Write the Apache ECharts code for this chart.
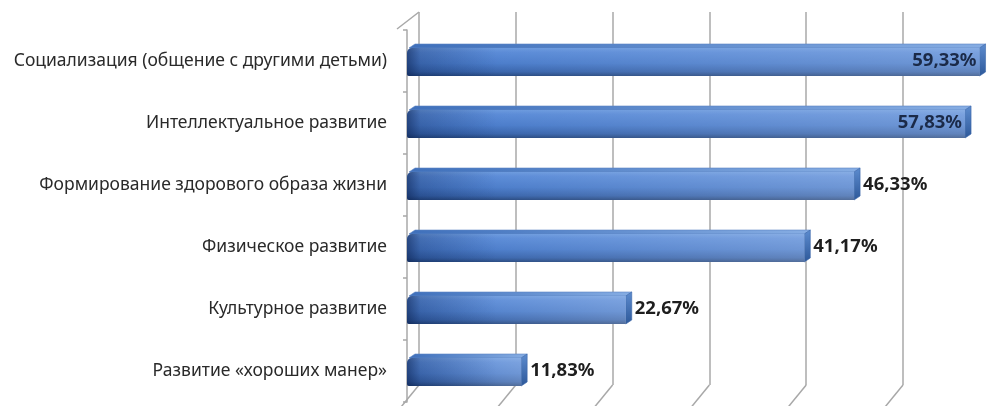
<!DOCTYPE html>
<html><head><meta charset="utf-8">
<script src="https://cdn.jsdelivr.net/npm/echarts@6/dist/echarts.min.js"></script>
<style>html,body{margin:0;padding:0;background:#fff}#c{width:990px;height:406px}</style>
</head><body><div id="c"></div>
<script>
const categories = [
  'Социализация (общение с другими детьми)',
  'Интеллектуальное развитие',
  'Формирование здорового образа жизни',
  'Физическое развитие',
  'Культурное развитие',
  'Развитие «хороших манер»'
];
const values = [59.33, 57.83, 46.33, 41.17, 22.67, 11.83];
const gridTicks = [0, 10, 20, 30, 40, 50];

const FONT = '"Noto Sans", sans-serif';
const chart = echarts.init(document.getElementById('c'), null, {renderer: 'canvas'});

function fmt(v) { return v.toFixed(2).replace('.', ',') + '%'; }

function renderBar(params, api) {
  const v = api.value(0), cat = api.value(1);
  const s = api.coord([0, cat]);
  const e = api.coord([v, cat]);
  const bh = 28, dx = 6, dy = -4;
  const x0 = s[0], x1 = e[0];
  const yc = e[1] + 1;
  const top = yc - bh / 2, bot = yc + bh / 2;
  const inside = v > 55;
  return {
    type: 'group',
    children: [
      { type: 'polygon', shape: { points: [[x0 + 2, top], [x0 + dx + 2, top + dy], [x1 + dx, top + dy], [x1, top]] },
        style: { fill: new echarts.graphic.LinearGradient(0, 0, 1, 0, [
          { offset: 0, color: '#3f70bb' }, { offset: 1, color: '#86ade3' }]), stroke: '#5a85c4', lineWidth: 0.6 } },
      { type: 'polygon', shape: { points: [[x1, top], [x1 + dx, top + dy], [x1 + dx, bot + dy], [x1, bot]] },
        style: { fill: new echarts.graphic.LinearGradient(0, 0, 0, 1, [
          { offset: 0, color: '#5d8ccf' }, { offset: 1, color: '#2d5899' }]), stroke: '#3b67aa', lineWidth: 0.6 } },
      { type: 'rect', shape: { x: x0, y: top, width: x1 - x0, height: bh, r: [5, 0, 0, 2] },
        style: { fill: new echarts.graphic.LinearGradient(0, 0, 0, 1, [
          { offset: 0, color: '#6696dc' }, { offset: 0.15, color: '#5688d6' },
          { offset: 0.55, color: '#4679c9' }, { offset: 0.85, color: '#3461aa' },
          { offset: 1, color: '#22457e' }]) } },
      { type: 'rect', shape: { x: x0, y: top, width: x1 - x0, height: bh, r: [5, 0, 0, 2] },
        style: { fill: new echarts.graphic.LinearGradient(0, 0, 1, 0, [
          { offset: 0, color: 'rgba(255,255,255,0)' }, { offset: 1, color: 'rgba(255,255,255,0.22)' }]) } },
      { type: 'rect', shape: { x: x0, y: top, width: Math.min(90, x1 - x0), height: bh, r: [5, 0, 0, 2] },
        style: { fill: new echarts.graphic.LinearGradient(0, 0, 1, 0, [
          { offset: 0, color: 'rgba(10,30,75,0.6)' }, { offset: 0.15, color: 'rgba(10,30,75,0.25)' },
          { offset: 1, color: 'rgba(10,30,75,0)' }]) } },
      { type: 'text', x: inside ? x1 - 3 : x1 + dx + 3, y: yc - 1,
        style: { text: fmt(v), fill: inside ? '#1b2a48' : '#1e1e1e', font: 'bold 18.5px ' + FONT,
          align: inside ? 'right' : 'left', verticalAlign: 'middle' } }
    ]
  };
}

function renderFloor(params, api) {
  const t = api.value(0);
  const b = api.coord([t, 0]);
  const children = [
    { type: 'line', shape: { x1: b[0], y1: b[1], x2: b[0] - 18, y2: b[1] + 22 },
      style: { stroke: '#a8a8a8', lineWidth: 1.5 } }
  ];
  if (t === 0) {
    const tp = api.coord([t, 1]);
    children.push({ type: 'line', shape: { x1: tp[0], y1: tp[1], x2: tp[0] - 22, y2: tp[1] + 17 },
      style: { stroke: '#a8a8a8', lineWidth: 1.5 } });
  }
  return { type: 'group', children };
}

const option = {
  backgroundColor: '#ffffff',
  animation: false,
  grid: [
    { left: 407, top: 30, width: 579, bottom: 4 },
    { left: 419, top: 12, width: 484, bottom: 21 }
  ],
  xAxis: [
    { gridIndex: 0, type: 'value', min: 0, max: 60, interval: 10, show: false },
    { gridIndex: 1, type: 'value', min: 0, max: 50, interval: 10,
      axisLine: { show: false }, axisTick: { show: false }, axisLabel: { show: false },
      splitLine: { show: true, lineStyle: { color: '#a8a8a8', width: 1.5 } } }
  ],
  yAxis: [
    { gridIndex: 0, type: 'category', data: categories, inverse: true, offset: 4,
      axisLine: { show: true, lineStyle: { color: '#a8a8a8', width: 1.5 } },
      axisTick: { show: true, length: 4, lineStyle: { color: '#a8a8a8', width: 1.5 } },
      axisLabel: { margin: 16, fontSize: 17.5, color: '#2a2a2a', fontFamily: FONT },
      splitLine: { show: false } },
    { gridIndex: 1, type: 'value', min: 0, max: 1, show: false }
  ],
  series: [
    { type: 'custom', xAxisIndex: 1, yAxisIndex: 1, renderItem: renderFloor,
      data: gridTicks.map(t => [t, 0]), silent: true, clip: false, z: 1 },
    { type: 'custom', xAxisIndex: 0, yAxisIndex: 0, renderItem: renderBar,
      encode: { x: 0, y: 1 },
      data: values.map((v, i) => [v, i]), clip: false, z: 3 }
  ]
};
chart.setOption(option);
</script></body></html>
